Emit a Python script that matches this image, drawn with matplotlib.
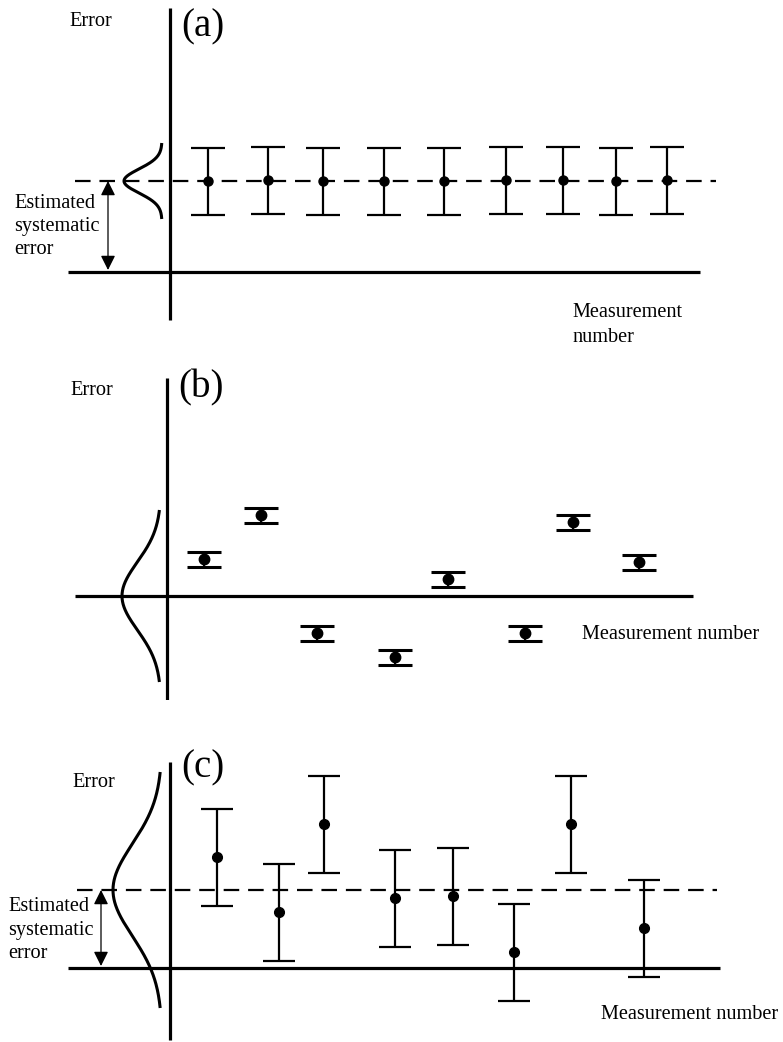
import numpy as np
import matplotlib
matplotlib.use("Agg")
import matplotlib.pyplot as plt

plt.rcParams['font.family'] = ['Liberation Serif', 'DejaVu Serif']

# ---- data (units: positions along the sketch axes) ----
# panel (a): precise but biased
a_x = [3.8, 9.8, 15.3, 21.4, 27.4, 33.6, 39.3, 44.6, 49.7]
a_y = [9.1, 9.2, 9.1, 9.1, 9.1, 9.2, 9.2, 9.1, 9.2]
a_err = 3.35
a_sys = 9.1

# panel (b): small error bars, scattered around zero
b_x = [3.7, 9.4, 15.0, 22.8, 28.1, 35.8, 40.6, 47.2]
b_y = [3.7, 8.1, -3.7, -6.1, 1.7, -3.7, 7.4, 3.4]
b_err = 0.75

# panel (c): large error bars, biased
c_x = [4.7, 10.9, 15.4, 22.5, 28.3, 34.4, 40.1, 47.4]
c_y = [11.1, 5.6, 14.4, 7.0, 7.2, 1.6, 14.4, 4.0]
c_err = 4.85
c_sys = 7.8

# gaussian sketch parameters: (center, sigma, amplitude, half-extent)
a_gauss = (a_sys, 1.2, 3.8, 3.8)
b_gauss = (0.0, 3.4, 3.9, 8.6)
c_gauss = (c_sys, 4.6, 4.9, 11.8)

labels = ['(a)', '(b)', '(c)']

W, H = 783, 1042
fig = plt.figure(figsize=(W / 100, H / 100), dpi=100)

FS = 14.6
LW_AX = 2.3
LW_EB = 1.6


def make_ax(top_px, bot_px, origin_x, origin_y):
    ax = fig.add_axes([0, (H - bot_px) / H, 1, (bot_px - top_px) / H])
    ax.set_xlim((0 - origin_x) / 10, (W - origin_x) / 10)
    ax.set_ylim((origin_y - bot_px) / 10, (origin_y - top_px) / 10)
    ax.set_axis_off()
    return ax


def gauss(ax, params, base_x):
    c, s, amp, ext = params
    yy = np.linspace(c - ext, c + ext, 300)
    xx = base_x - amp * np.exp(-(yy - c) ** 2 / (2 * s ** 2))
    ax.plot(xx, yy, color='k', lw=2.2, solid_capstyle='butt', clip_on=False)


def arrow(ax, x, y0, y1):
    ax.annotate('', xy=(x, y1), xytext=(x, y0),
                arrowprops=dict(arrowstyle='<|-|>', color='k', lw=0.9,
                                mutation_scale=22, shrinkA=0, shrinkB=0))


dash = (0, (7.0, 4.0))

# ---------------- panel (a) ----------------
ax = make_ax(0, 340, 170, 272)
ax.plot([0, 0], [-4.8, 26.4], color='k', lw=LW_AX, solid_capstyle='butt')
ax.plot([-10.2, 53.0], [0, 0], color='k', lw=LW_AX, solid_capstyle='butt')
ax.plot([-9.5, 54.6], [a_sys, a_sys], color='k', lw=LW_EB, linestyle=dash)
ax.errorbar(a_x, a_y, yerr=a_err, fmt='o', color='k', ms=6.5, lw=LW_EB,
            capsize=12, capthick=LW_EB, zorder=3)
gauss(ax, a_gauss, -0.8)
arrow(ax, -6.2, 0.2, a_sys)
ax.text(-10.1, 24.6, 'Error', fontsize=FS, va='baseline', ha='left')
ax.text(1.1, 23.6, labels[0], fontsize=28, va='baseline', ha='left')
for i, t in enumerate(['Estimated', 'systematic', 'error']):
    ax.text(-15.6, 6.4 - 2.3 * i, t, fontsize=FS, va='baseline', ha='left')
ax.text(40.2, -4.5, 'Measurement', fontsize=FS, va='baseline', ha='left', clip_on=False)
ax.text(40.2, -7.0, 'number', fontsize=FS, va='baseline', ha='left', clip_on=False)

# ---------------- panel (b) ----------------
ax = make_ax(340, 700, 167, 596)
ax.plot([0, 0], [-10.4, 21.8], color='k', lw=LW_AX, solid_capstyle='butt')
ax.plot([-9.2, 52.6], [0, 0], color='k', lw=LW_AX, solid_capstyle='butt')
ax.errorbar(b_x, b_y, yerr=b_err, fmt='o', color='k', ms=7.5, lw=LW_EB,
            capsize=12.2, capthick=2.2, zorder=3)
gauss(ax, b_gauss, -0.6)
ax.text(-9.7, 20.1, 'Error', fontsize=FS, va='baseline', ha='left')
ax.text(1.1, 19.9, labels[1], fontsize=28, va='baseline', ha='left')
ax.text(41.5, -4.3, 'Measurement number', fontsize=FS, va='baseline', ha='left')

# ---------------- panel (c) ----------------
ax = make_ax(700, 1042, 170, 968)
ax.plot([0, 0], [-7.2, 20.6], color='k', lw=LW_AX, solid_capstyle='butt')
ax.plot([-10.2, 55.0], [0, 0], color='k', lw=LW_AX, solid_capstyle='butt')
ax.plot([-9.3, 54.7], [c_sys, c_sys], color='k', lw=LW_EB, linestyle=dash)
ax.errorbar(c_x, c_y, yerr=c_err, fmt='o', color='k', ms=7, lw=LW_EB,
            capsize=11.8, capthick=LW_EB, zorder=3)
gauss(ax, c_gauss, -0.8)
arrow(ax, -6.9, 0.2, c_sys)
ax.text(-9.8, 18.1, 'Error', fontsize=FS, va='baseline', ha='left')
ax.text(1.1, 19.1, labels[2], fontsize=28, va='baseline', ha='left')
for i, t in enumerate(['Estimated', 'systematic', 'error']):
    ax.text(-16.2, 5.7 - 2.35 * i, t, fontsize=FS, va='baseline', ha='left')
ax.text(43.1, -5.1, 'Measurement number', fontsize=FS, va='baseline', ha='left')

fig.savefig('out.png', dpi=100, facecolor='white')
